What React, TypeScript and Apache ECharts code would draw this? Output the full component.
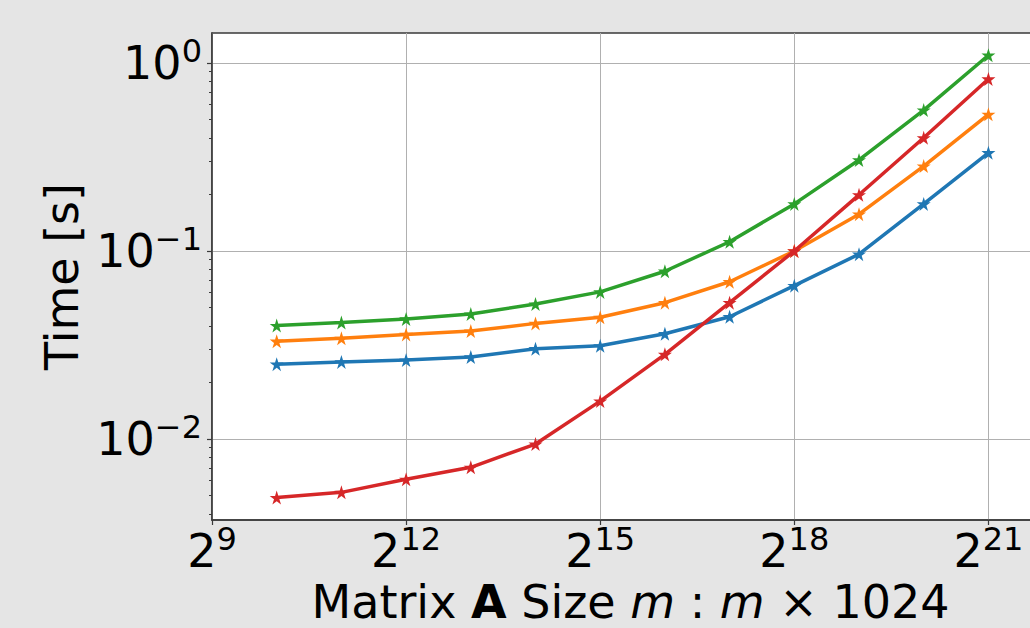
import React, { useEffect, useRef } from "react";
import * as echarts from "echarts";

// Matrix A size m (rows), m x 1024
const mSizes = [1024, 2048, 4096, 8192, 16384, 32768, 65536, 131072, 262144, 524288, 1048576, 2097152];

// Time [s] per series
const blueTimes = [0.025, 0.0257, 0.0263, 0.0273, 0.0302, 0.0313, 0.0363, 0.0447, 0.0654, 0.0962, 0.178, 0.333];
const orangeTimes = [0.0331, 0.0343, 0.036, 0.0375, 0.0412, 0.0444, 0.0531, 0.0686, 0.1, 0.157, 0.283, 0.533];
const greenTimes = [0.0401, 0.0416, 0.0435, 0.0462, 0.0522, 0.0606, 0.078, 0.112, 0.178, 0.305, 0.562, 1.1];
const redTimes = [0.00488, 0.0052, 0.0061, 0.00707, 0.0094, 0.0159, 0.0282, 0.0531, 0.1, 0.199, 0.4, 0.822];

const seriesColors = ["#1f77b4", "#ff7f0e", "#2ca02c", "#d62728"];

// Tick values
const xTickValues = [512, 4096, 32768, 262144, 2097152];
const yMajorTicks = [0.01, 0.1, 1];
const yMinorTicks = [0.004, 0.005, 0.006, 0.007, 0.008, 0.009, 0.02, 0.03, 0.04, 0.05, 0.06, 0.07, 0.08, 0.09, 0.2, 0.3, 0.4, 0.5, 0.6, 0.7, 0.8, 0.9];

const FONT = "DejaVu Sans";

function starPath(): string {
  const pts: string[] = [];
  for (let i = 0; i < 10; i++) {
    const r = i % 2 === 0 ? 1 : 0.382;
    const a = -Math.PI / 2 + (i * Math.PI) / 5;
    pts.push(`${(r * Math.cos(a)).toFixed(4)} ${(r * Math.sin(a)).toFixed(4)}`);
  }
  return "path://M" + pts.join(" L") + " Z";
}

const richLabel = {
  b: { fontSize: 46, fontFamily: FONT, color: "#000", lineHeight: 56 },
  s: { fontSize: 32, fontFamily: FONT, color: "#000", lineHeight: 36, verticalAlign: "top" as const },
};

export default function App() {
  const ref = useRef<HTMLDivElement>(null);
  useEffect(() => {
    if (!ref.current) return;
    const chart = echarts.init(ref.current, undefined, { renderer: "svg" });
    const star = starPath();
    const allTimes = [blueTimes, orangeTimes, greenTimes, redTimes];
    const option: any = {
      animation: false,
      backgroundColor: "#e5e5e5",
      grid: {
        left: 212,
        top: 33,
        width: 823,
        height: 487,
        show: true,
        backgroundColor: "#ffffff",
        borderColor: "#3a3a3a",
        borderWidth: 1.5,
        containLabel: false,
        outerBoundsMode: "none",
      },
      xAxis: {
        type: "log",
        logBase: 2,
        min: 512,
        max: Math.pow(2, 21.72),
        name: "{n|Matrix }{bf|A}{n| Size }{it|m}{n| : }{it|m}{n| × 1024}",
        nameLocation: "middle",
        nameGap: 45,
        nameTextStyle: {
          padding: [0, 0, 0, 14],
          rich: {
            n: { fontSize: 46, fontFamily: FONT, color: "#000" },
            bf: { fontSize: 46, fontFamily: FONT, fontWeight: "bold", color: "#000" },
            it: { fontSize: 46, fontFamily: FONT, fontStyle: "italic", color: "#000" },
          },
        },
        axisLine: { show: true, lineStyle: { color: "#3a3a3a", width: 1.5 } },
        axisTick: { show: true, length: 5, lineStyle: { color: "#3a3a3a", width: 1.2 }, customValues: xTickValues },
        axisLabel: {
          customValues: xTickValues,
          margin: 3,
          formatter: (v: number) => `{b|2}{s|${Math.round(Math.log2(v))}}`,
          rich: richLabel,
        },
        splitLine: { show: true, lineStyle: { color: "#b0b0b0", width: 1 } },
      },
      yAxis: [
        {
          type: "log",
          logBase: 10,
          min: 0.003707,
          max: 1.444,
          name: "Time [s]",
          nameLocation: "middle",
          nameRotate: 90,
          nameGap: 126,
          nameTextStyle: { fontSize: 46, fontFamily: FONT, color: "#000" },
          axisLine: { show: true, lineStyle: { color: "#3a3a3a", width: 1.5 } },
          axisTick: { show: true, length: 5, lineStyle: { color: "#3a3a3a", width: 1.2 }, customValues: yMajorTicks },
          axisLabel: {
            customValues: yMajorTicks,
            margin: 10,
            formatter: (v: number) => {
              const e = Math.round(Math.log10(v));
              return `{b|10}{s|${e < 0 ? "\u2212" + -e : e}}`;
            },
            rich: richLabel,
          },
          splitLine: { show: true, lineStyle: { color: "#b0b0b0", width: 1 } },
        },
        {
          type: "log",
          logBase: 10,
          min: 0.003707,
          max: 1.444,
          position: "left",
          axisLine: { show: false },
          axisLabel: { show: false },
          splitLine: { show: false },
          axisTick: { show: true, length: 3, lineStyle: { color: "#3a3a3a", width: 1 }, customValues: yMinorTicks },
        },
      ],
      series: allTimes.map((times, i) => ({
        type: "line",
        yAxisIndex: 0,
        data: mSizes.map((m, j) => [m, times[j]]),
        symbol: star,
        symbolSize: 14,
        lineStyle: { width: 3.5, color: seriesColors[i] },
        itemStyle: { color: seriesColors[i] },
        z: 2 + i,
      })),
    };
    chart.setOption(option);
    return () => chart.dispose();
  }, []);
  return (
    <div
      ref={ref}
      style={{ position: "fixed", left: 0, top: 0, width: 1030, height: 628 }}
    />
  );
}
